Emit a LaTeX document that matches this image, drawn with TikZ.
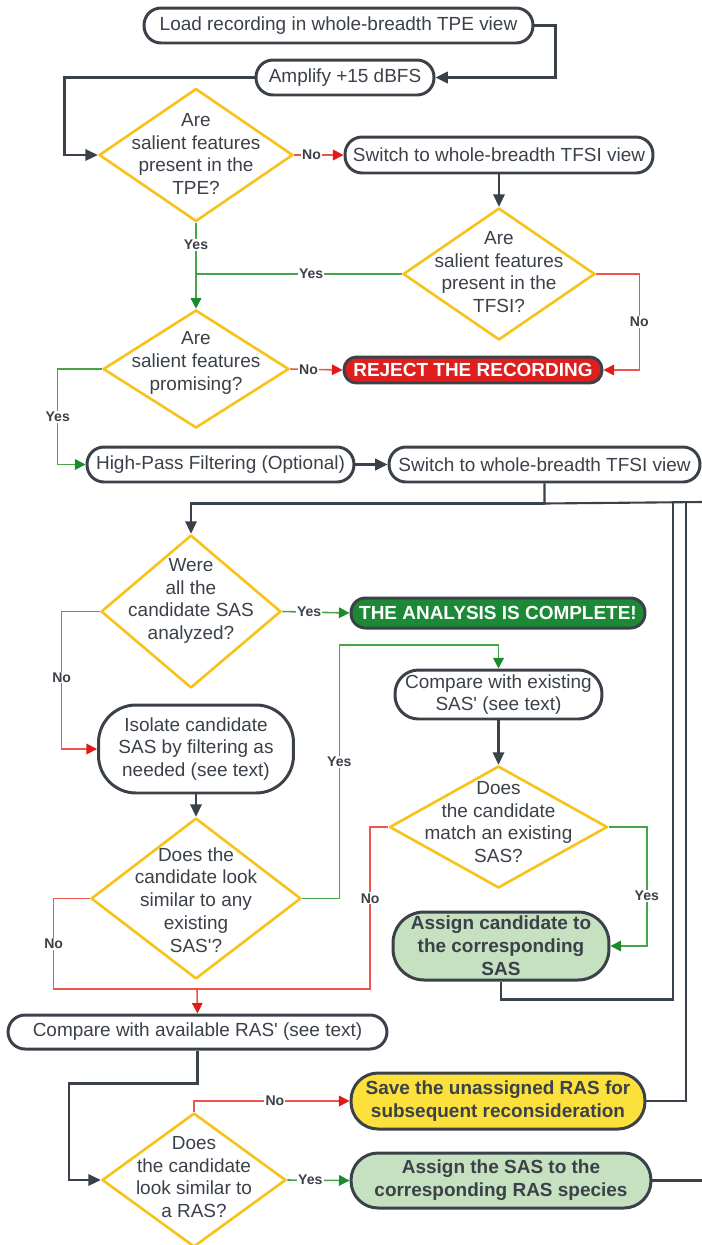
\documentclass[tikz,border=0pt]{standalone}
\usepackage{fontspec}
\setmainfont{Liberation Sans}
\usepackage{xcolor}
\usepackage{tikz}
\usetikzlibrary{arrows.meta,shapes.geometric}
\definecolor{ink}{HTML}{3B4149}
\definecolor{gold}{HTML}{F7C31A}
\definecolor{redln}{HTML}{EC5848}
\definecolor{redtip}{HTML}{E11B1B}
\definecolor{grnln}{HTML}{47A447}
\definecolor{grntip}{HTML}{1B8B2C}
\definecolor{rejfill}{HTML}{DF1E1E}
\definecolor{donefill}{HTML}{1C8936}
\definecolor{mint}{HTML}{C6E1C0}
\definecolor{sun}{HTML}{FCE03C}
\newcommand{\apos}{\textquotesingle}
\tikzset{
  txt/.style={font=\fontsize{10.8}{13}\selectfont, text=ink, align=center, inner sep=0pt},
  box/.style={txt, draw=ink, line width=1.7pt, fill=white, inner sep=1pt, rounded corners=0.34cm},
  hot/.style={box, font=\bfseries\fontsize{10.8}{13}\selectfont},
  alert/.style={hot, text=white},
  dec/.style={diamond, draw=gold, line width=1.5pt, fill=white, inner sep=0pt, line join=round},
  flow/.style={draw=ink, line width=1.2pt, -{Triangle[length=7pt,width=6.5pt]}},
  link/.style={draw=ink, line width=1.2pt},
  yes/.style={draw=grnln, line width=0.9pt, -{Triangle[length=6pt,width=6pt,color=grntip]}},
  no/.style={draw=redln, line width=0.9pt, -{Triangle[length=6pt,width=6pt,color=redtip]}},
  lbl/.style={font=\bfseries\fontsize{8}{9}\selectfont, text=ink, fill=white, inner sep=0.6pt}
}

\begin{document}
\begin{tikzpicture}[x=0.02cm, y=-0.02cm]
  \useasboundingbox (0,0) rectangle (702,1245);
  \coordinate (backA) at (673,502);
  \coordinate (backB) at (686,502);
  \coordinate (backC) at (703,502);
  \coordinate (merge) at (197,989);

  \node[box, minimum width=7.78cm, minimum height=0.70cm] (load) at (338.5,25.5) {Load recording in whole-breadth TPE view};
  \node[box, minimum width=3.56cm, minimum height=0.70cm] (amp) at (345,77.5) {Amplify +15 dBFS};
  \node[dec, minimum width=3.88cm, minimum height=2.66cm] (tpeq) at (196,155) {};
  \node[txt] (tpeqt) at (196,154) {Are\\salient features\\present in the\\TPE?};
  \node[box, minimum width=6.16cm, minimum height=0.72cm] (swa) at (499,155) {Switch to whole-breadth TFSI view};
  \node[dec, minimum width=3.84cm, minimum height=2.64cm] (tfsiq) at (499,274) {};
  \node[txt] (tfsiqt) at (499,272) {Are\\salient features\\present in the\\TFSI?};
  \node[dec, minimum width=3.72cm, minimum height=2.36cm] (promq) at (196,369) {};
  \node[txt] (promqt) at (196,363) {Are\\salient features\\promising?};
  \node[alert, fill=rejfill, minimum width=5.16cm, minimum height=0.52cm, rounded corners=0.25cm] (reject) at (473,370) {REJECT THE RECORDING};
  \node[box, minimum width=5.34cm, minimum height=0.70cm] (hpf) at (220.5,464.5) {High-Pass Filtering (Optional)};
  \node[box, minimum width=6.22cm, minimum height=0.70cm] (swb) at (544.5,464.5) {Switch to whole-breadth TFSI view};

  \node[dec, minimum width=3.60cm, minimum height=3.06cm] (allq) at (191,611.5) {};
  \node[txt] (allqt) at (191,601) {Were\\all the\\candidate SAS\\analyzed?};
  \node[alert, fill=donefill, minimum width=5.88cm, minimum height=0.60cm, rounded corners=0.29cm] (complete) at (498,613) {THE ANALYSIS IS COMPLETE!};
  \node[box, minimum width=3.90cm, minimum height=1.76cm, rounded corners=0.75cm] (isolate) at (196,749) {Isolate candidate\\SAS by filtering as\\needed (see text)};
  \node[dec, minimum width=4.20cm, minimum height=3.22cm] (simq) at (196,898.5) {};
  \node[txt] (simqt) at (196,900) {Does the\\candidate look\\similar to any\\existing\\SAS\apos?};
  \node[box, minimum width=4.14cm, minimum height=0.98cm, rounded corners=0.47cm] (cmpsas) at (498.5,694.5) {Compare with existing\\SAS\apos{} (see text)};
  \node[dec, minimum width=4.36cm, minimum height=2.44cm] (matchq) at (498.5,827) {};
  \node[txt] (matchqt) at (498.5,822) {Does\\the candidate\\match an existing\\SAS?};
  \node[hot, fill=mint, minimum width=4.32cm, minimum height=1.36cm, rounded corners=0.62cm] (assignsas) at (501,946) {Assign candidate to\\the corresponding\\SAS};

  \node[box, minimum width=7.58cm, minimum height=0.68cm] (cmpras) at (197.5,1032) {Compare with available RAS\apos{} (see text)};
  \node[dec, minimum width=3.68cm, minimum height=2.68cm] (rasq) at (194,1180) {};
  \node[txt] (rasqt) at (194,1177) {Does\\the candidate\\look similar to\\a RAS?};
  \node[hot, fill=sun, minimum width=5.88cm, minimum height=1.12cm, rounded corners=0.54cm] (saveras) at (498,1101) {Save the unassigned RAS for\\subsequent reconsideration};
  \node[hot, fill=mint, minimum width=6.00cm, minimum height=1.10cm, rounded corners=0.54cm] (assignras) at (501,1180.5) {Assign the SAS to the\\corresponding RAS species};

  \draw[flow] (load.east) -- ++(21,0) |- (amp.east);
  \draw[flow] (amp.west) -- ++(-190,0) |- (tpeq.west);
  \draw[no] (tpeq.east) -- node[lbl,pos=0.35]{No} (swa.west);
  \draw[flow] (swa.south) -- (tfsiq.north);
  \draw[yes] (tpeq.south) -- node[lbl,pos=0.26]{Yes} (promq.north);
  \draw[yes,-] (tfsiq.west) -- node[lbl,pos=0.44]{Yes} (tfsiq.west -| tpeq.south);
  \draw[no] (tfsiq.east) -- ++(43,0) |- node[lbl,pos=0.25]{No} (reject.east);
  \draw[no] (promq.east) -- node[lbl,pos=0.35]{No} (reject.west);
  \draw[yes] (promq.west) -- ++(-44,0) |- node[lbl,pos=0.25]{Yes} (hpf.west);
  \draw[flow] (hpf.east) -- (swb.west);
  \path (swb.south) ++(0,20) coordinate (hub);
  \draw[link] (swb.south) -- (hub) -- (backC);
  \draw[flow] (hub) -| (allq.north);
  \draw[yes] (allq.east) -- node[lbl,pos=0.4]{Yes} (complete.west);
  \draw[no] (allq.west) -- ++(-38,0) |- node[lbl,pos=0.24]{No} (isolate.west);
  \draw[flow] (isolate.south) -- (simq.north);
  \draw[yes] (simq.east) -- ++(37,0) -- ++(0,-253.5) node[lbl,pos=0.54]{Yes} -| (cmpsas.north);
  \draw[flow] (cmpsas.south) -- (matchq.north);
  \draw[yes] (matchq.east) -- ++(38,0) |- node[lbl,pos=0.29]{Yes} (assignsas.east);
  \draw[no,-] (simq.west) -- ++(-36,0) |- node[lbl,pos=0.25]{No} (merge);
  \draw[no,-] (matchq.west) -- ++(-18,0) |- node[lbl,pos=0.22]{No} (merge);
  \draw[no] (merge) -- (cmpras.north);
  \draw[flow] (cmpras.south) -- ++(0,33) -- ++(-128.5,0) |- (rasq.west);
  \draw[no] (rasq.north) |- node[lbl,pos=0.76]{No} (saveras.west);
  \draw[yes] (rasq.east) -- node[lbl,pos=0.37]{Yes} (assignras.west);
  \draw[link] (assignsas.south) -- ++(0,18) -| (backA);
  \draw[link] (saveras.east) -| (backB);
  \draw[link] (assignras.east) -| (backC);
\end{tikzpicture}
\end{document}
